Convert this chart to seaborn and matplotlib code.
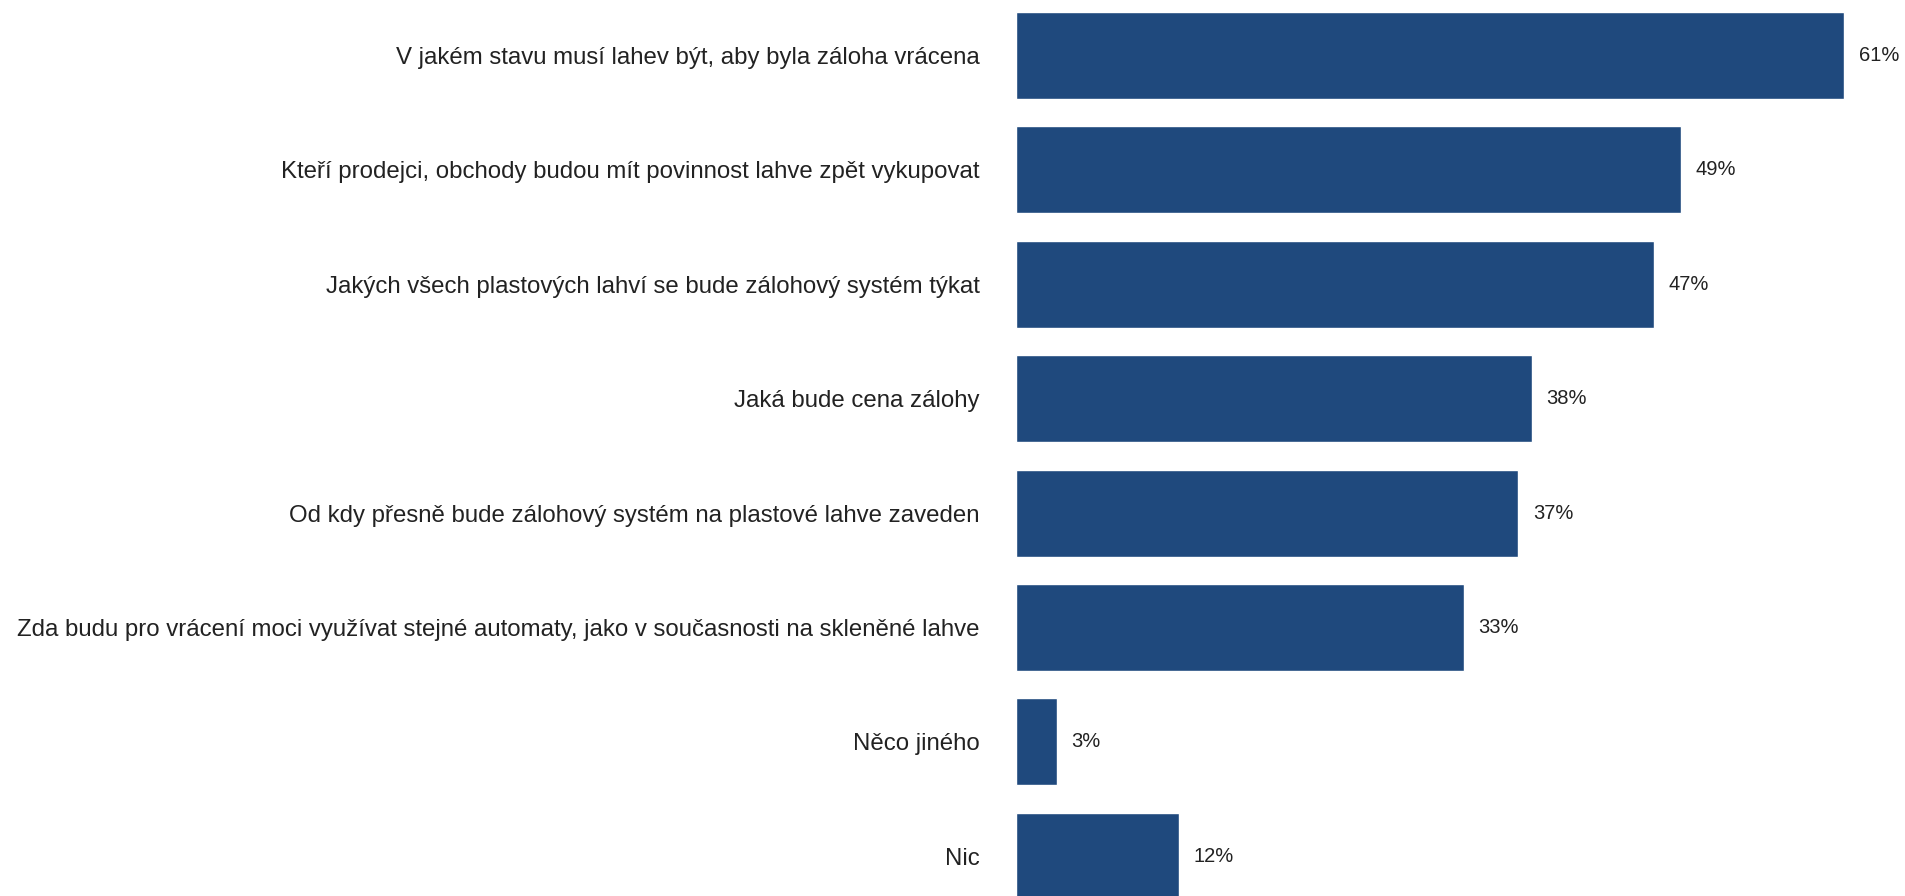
import pandas as pd
import seaborn as sns
import matplotlib.pyplot as plt

# data
categories = [
    'V jakém stavu musí lahev být, aby byla záloha vrácena',
    'Kteří prodejci, obchody budou mít povinnost lahve zpět vykupovat',
    'Jakých všech plastových lahví se bude zálohový systém týkat',
    'Jaká bude cena zálohy',
    'Od kdy přesně bude zálohový systém na plastové lahve zaveden',
    'Zda budu pro vrácení moci využívat stejné automaty, jako v současnosti na skleněné lahve',
    'Něco jiného',
    'Nic',
]
values = [61, 49, 47, 38, 37, 33, 3, 12]

df = pd.DataFrame({'kategorie': categories, 'podil': values})

sns.set_style('white')
plt.rcParams['font.family'] = ['Liberation Sans', 'DejaVu Sans']

fig = plt.figure(figsize=(19.06, 8.96), dpi=100)
ax = fig.add_axes([1016 / 1906, 0, 1 - 1016 / 1906, 1])

sns.barplot(data=df, x='podil', y='kategorie', color='#1f497d',
            saturation=1, width=0.76, ax=ax, orient='h')

ax.set_xlim(0, 65.6)
ax.set_ylim(7.347, -0.485)
ax.set_xlabel('')
ax.set_ylabel('')
ax.set_xticks([])
sns.despine(ax=ax, left=True, bottom=True)
ax.tick_params(axis='y', length=0, pad=26, labelsize=17.3, labelcolor='#222222')

# popisky hodnot
for i, v in enumerate(values):
    ax.text(v + 1.1, i, f'{v}%', va='center', ha='left',
            fontsize=14.5, color='#222222')

fig.savefig('out.png', dpi=100)
